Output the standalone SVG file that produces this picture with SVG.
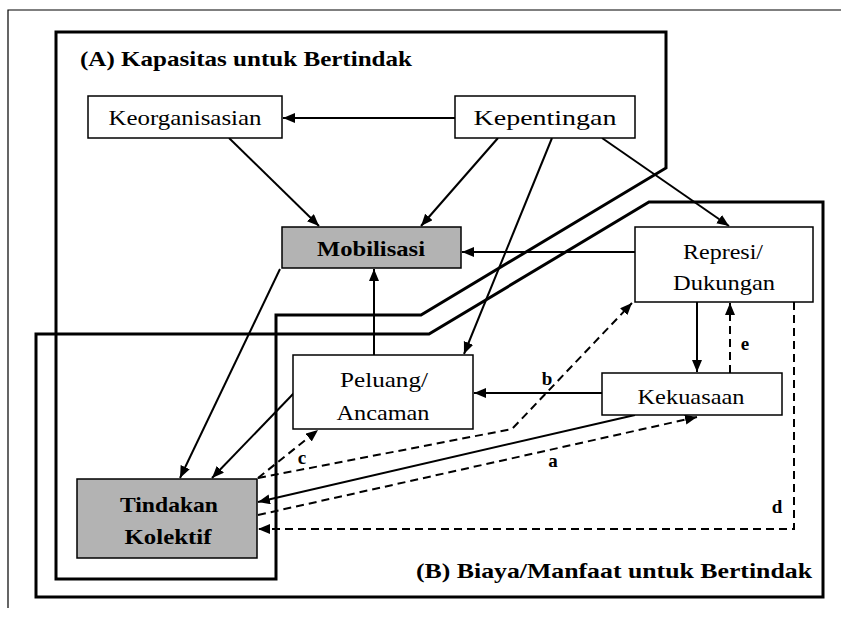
<svg xmlns="http://www.w3.org/2000/svg" width="841" height="618" viewBox="0 0 841 618" font-family="'Liberation Serif', 'Times New Roman', Times, 'Nimbus Roman', FreeSerif, serif">
  <style>
    .frame { fill: none; stroke: #000; stroke-width: 3; stroke-linejoin: miter; }
    .outer { fill: none; stroke: #000; stroke-width: 1.2; }
    .box { fill: #fff; stroke: #000; stroke-width: 1.5; }
    .shade { fill: #b3b3b3; stroke: #000; stroke-width: 1.5; }
    .lbl { font-size: 22px; fill: #000; text-anchor: middle; }
    .bold { font-weight: bold; }
    .title { font-size: 22px; font-weight: bold; fill: #000; }
    .tag { font-size: 19px; font-weight: bold; fill: #000; text-anchor: middle; }
    .conn { fill: none; stroke: #000; stroke-width: 2; }
    .dash { stroke-dasharray: 8 5; }
  </style>
  <defs>
    <marker id="arr" markerUnits="userSpaceOnUse" markerWidth="13" markerHeight="11" refX="12" refY="5" orient="auto">
      <path d="M0,0 L12,5 L0,10 z" fill="#000"/>
    </marker>
  </defs>

  <!-- page frame -->
  <path class="outer" d="M8,608 V10 H841"/>

  <!-- region frames -->
  <g id="frame-a">
    <path class="frame" d="M56,32 H666 V168 L421,315 H276 V579 H56 Z"/>
    <text class="title" x="80" y="66" textLength="332" lengthAdjust="spacingAndGlyphs">(A) Kapasitas untuk Bertindak</text>
  </g>
  <g id="frame-b">
    <path class="frame" d="M36,334 H429 L649,202 H823 V597 H36 Z"/>
    <text class="title" x="416" y="578" textLength="396" lengthAdjust="spacingAndGlyphs">(B) Biaya/Manfaat untuk Bertindak</text>
  </g>

  <!-- connectors -->
  <g id="connectors">
    <line class="conn" x1="455" y1="118" x2="283" y2="118" marker-end="url(#arr)"/>
    <line class="conn" x1="229" y1="138" x2="319" y2="226" marker-end="url(#arr)"/>
    <line class="conn" x1="498" y1="138" x2="421" y2="226" marker-end="url(#arr)"/>
    <line class="conn" x1="552" y1="138" x2="464" y2="354" marker-end="url(#arr)"/>
    <line class="conn" x1="602" y1="138" x2="729" y2="226" marker-end="url(#arr)"/>
    <line class="conn" x1="635" y1="252" x2="462" y2="252" marker-end="url(#arr)"/>
    <line class="conn" x1="374" y1="355" x2="374" y2="269" marker-end="url(#arr)"/>
    <line class="conn" x1="280" y1="269" x2="180" y2="478" marker-end="url(#arr)"/>
    <line class="conn" x1="294" y1="393" x2="212" y2="478" marker-end="url(#arr)"/>
    <line class="conn" x1="697" y1="302" x2="697" y2="372" marker-end="url(#arr)"/>
    <line class="conn dash" x1="730" y1="373" x2="730" y2="303" marker-end="url(#arr)"/>
    <line class="conn" x1="602" y1="393" x2="474" y2="393" marker-end="url(#arr)"/>
    <line class="conn" x1="635" y1="415" x2="258" y2="502" marker-end="url(#arr)"/>
    <line class="conn dash" x1="258" y1="515" x2="697" y2="417" marker-end="url(#arr)"/>
    <polyline class="conn dash" points="258,478 512,429 632,303" marker-end="url(#arr)"/>
    <line class="conn dash" x1="258" y1="478" x2="318" y2="430" marker-end="url(#arr)"/>
    <polyline class="conn dash" points="794,302 794,529 258,529" marker-end="url(#arr)"/>
    <text class="tag" x="553" y="467">a</text>
    <text class="tag" x="547" y="385">b</text>
    <text class="tag" x="302" y="464">c</text>
    <text class="tag" x="777" y="513">d</text>
    <text class="tag" x="745" y="350">e</text>
  </g>

  <!-- nodes -->
  <g id="keorganisasian">
    <rect class="box" x="88" y="96" width="194" height="42"/>
    <text class="lbl" x="185" y="125" textLength="153" lengthAdjust="spacingAndGlyphs">Keorganisasian</text>
  </g>
  <g id="kepentingan">
    <rect class="box" x="455" y="96" width="180" height="42"/>
    <text class="lbl" x="545" y="125" textLength="143" lengthAdjust="spacingAndGlyphs">Kepentingan</text>
  </g>
  <g id="mobilisasi">
    <rect class="shade" x="282" y="227" width="179" height="41"/>
    <text class="lbl bold" x="371" y="256" textLength="108" lengthAdjust="spacingAndGlyphs">Mobilisasi</text>
  </g>
  <g id="represi">
    <rect class="box" x="635" y="227" width="178" height="75"/>
    <text class="lbl" x="723" y="259" textLength="80" lengthAdjust="spacingAndGlyphs">Represi/</text>
    <text class="lbl" x="724" y="290" textLength="102" lengthAdjust="spacingAndGlyphs">Dukungan</text>
  </g>
  <g id="peluang">
    <rect class="box" x="293" y="355" width="180" height="74"/>
    <text class="lbl" x="384" y="387" textLength="88" lengthAdjust="spacingAndGlyphs">Peluang/</text>
    <text class="lbl" x="383" y="420" textLength="93" lengthAdjust="spacingAndGlyphs">Ancaman</text>
  </g>
  <g id="kekuasaan">
    <rect class="box" x="602" y="373" width="180" height="42"/>
    <text class="lbl" x="691" y="404" textLength="107" lengthAdjust="spacingAndGlyphs">Kekuasaan</text>
  </g>
  <g id="tindakan-kolektif">
    <rect class="shade" x="77" y="479" width="180" height="79"/>
    <text class="lbl bold" x="169" y="512" textLength="98" lengthAdjust="spacingAndGlyphs">Tindakan</text>
    <text class="lbl bold" x="168" y="544" textLength="87" lengthAdjust="spacingAndGlyphs">Kolektif</text>
  </g>
</svg>
